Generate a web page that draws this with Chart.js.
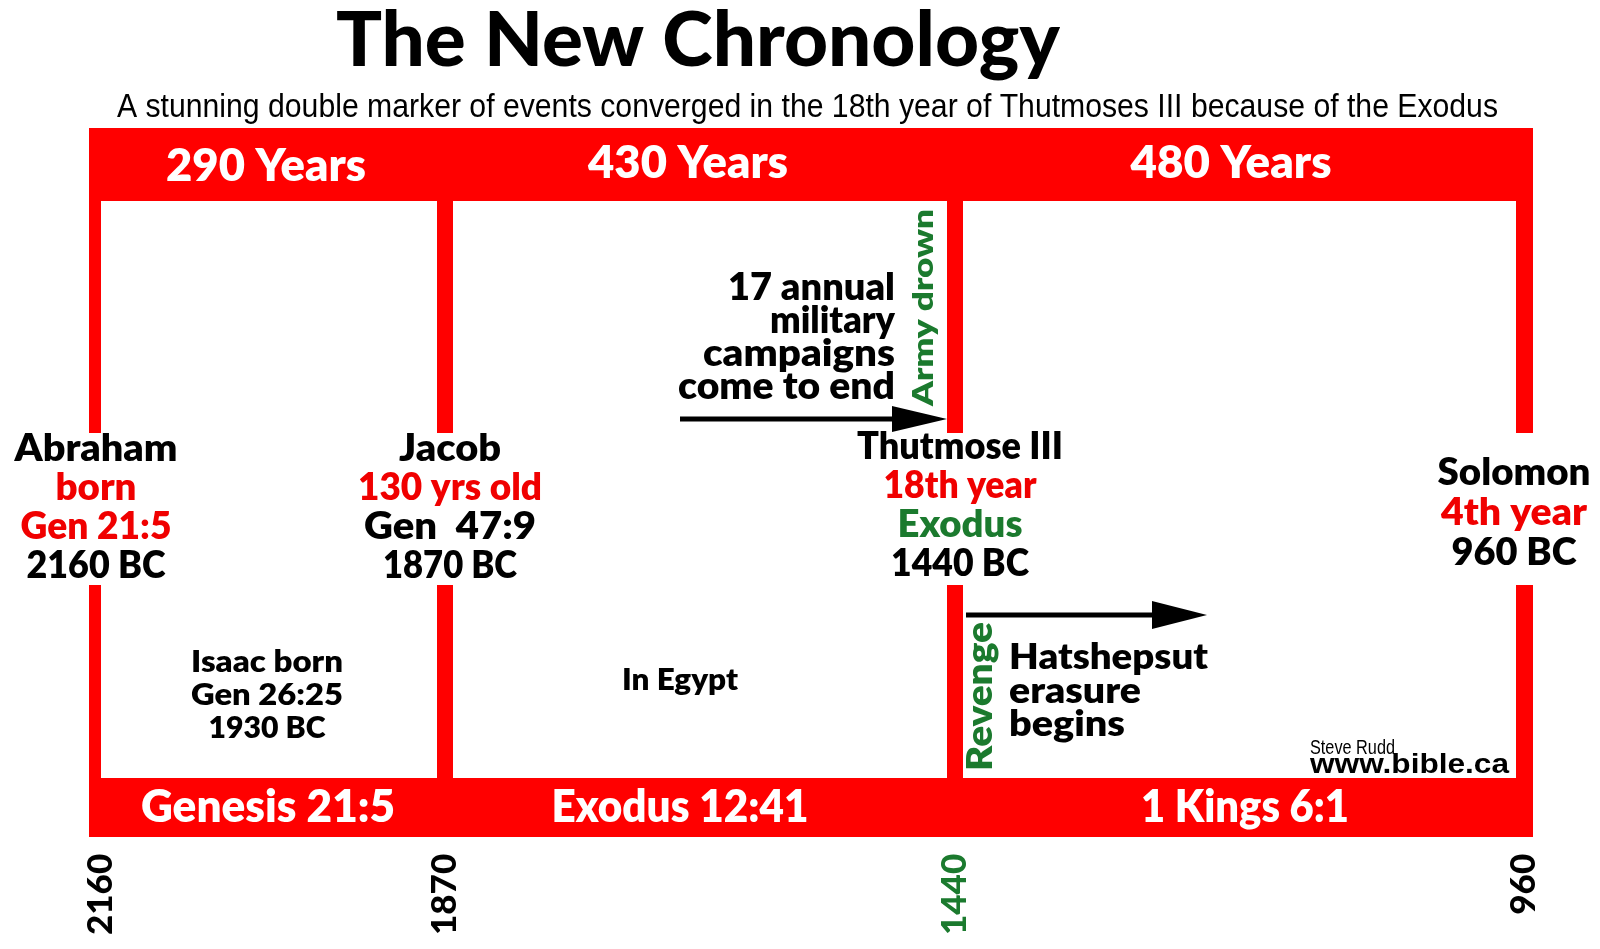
<!DOCTYPE html>
<html><head><meta charset="utf-8">
<style>html,body{margin:0;padding:0;background:#fff;}#wrap{width:1600px;height:949px;}</style>
<script src="https://cdn.jsdelivr.net/npm/chart.js@4.4.1/dist/chart.umd.min.js"></script>
</head><body><div id="wrap"><canvas id="c" width="1600" height="949"></canvas></div>
<script>
// ---------------- data ----------------
const years = [2160, 1870, 1440, 960];
const tickLabels = ['2160', '1870', '1440', '960'];
const periodStart = [2160, 1870, 1440];
const periodEnd = [1870, 1440, 960];
const periodLength = ['290 Years', '430 Years', '480 Years'];
const periodSource = ['Genesis 21:5', 'Exodus 12:41', '1 Kings 6:1'];
const eventLines = [
  ['Abraham', 'born', 'Gen 21:5', '2160 BC'],
  ['Jacob', '130 yrs old', 'Gen  47:9', '1870 BC'],
  ['Thutmose III', '18th year', 'Exodus', '1440 BC'],
  ['Solomon', '4th year', '960 BC']
];
const isaacLines = ['Isaac born', 'Gen 26:25', '1930 BC'];
const egyptLabel = 'In Egypt';
const campaignLines = ['17 annual', 'military', 'campaigns', 'come to end'];
const erasureLines = ['Hatshepsut', 'erasure', 'begins'];
const armyLabel = 'Army drown';
const revengeLabel = 'Revenge';
const titleText = 'The New Chronology';
const subtitleText = 'A stunning double marker of events converged in the 18th year of Thutmoses III because of the Exodus';
const creditSmall = 'Steve Rudd';
const creditSite = 'www.bible.ca';

// ---------------- styles / layout ----------------
const RED = '#ff0000', TRED = '#f00000', GREEN = '#1b7a2e', BLACK = '#000000';
const eventColors = [
  [BLACK, TRED, TRED, BLACK],
  [BLACK, TRED, BLACK, BLACK],
  [BLACK, TRED, GREEN, BLACK],
  [BLACK, TRED, BLACK]
];
const eventLayout = [
  {cx: 96,   base: [461, 500, 539, 578], w: [163, 81, 151, 139]},
  {cx: 450,  base: [461, 500, 539, 578], w: [102, 184, 172, 134]},
  {cx: 960,  base: [459, 498, 537, 576], w: [206, 153, 125, 138]},
  {cx: 1514, base: [485, 525, 565],      w: [153, 146, 125]}
];
const topLabelLayout = [{cx: 266, base: 181, w: 200}, {cx: 688, base: 178, w: 200}, {cx: 1231, base: 178, w: 201}];
const botLabelLayout = [{cx: 268, base: 822, w: 254}, {cx: 680, base: 822, w: 257}, {cx: 1245, base: 822, w: 208}];
const FONT = 'Lato, "Open Sans", sans-serif';
const NARROW = '"Liberation Sans Narrow", "Liberation Sans", Arial, sans-serif';

function fitText(ctx, txt, x, y, size, w, color, align, weight, family, rot) {
  ctx.save();
  ctx.font = `${weight || '800'} ${size}px ${family || FONT}`;
  const m = ctx.measureText(txt).width;
  const s = w / m;
  ctx.translate(x, y);
  if (rot) ctx.rotate(rot);
  ctx.scale(s, 1);
  ctx.textAlign = align || 'center';
  ctx.textBaseline = 'alphabetic';
  ctx.fillStyle = color;
  ctx.fillText(txt, 0, 0);
  ctx.restore();
}

function arrow(ctx, x0, x1, y, headLen, headHalf, shaft) {
  ctx.save();
  ctx.fillStyle = BLACK;
  ctx.fillRect(x0, y - shaft / 2, x1 - headLen - x0 + 1, shaft);
  ctx.beginPath();
  ctx.moveTo(x1 - headLen, y - headHalf);
  ctx.lineTo(x1, y);
  ctx.lineTo(x1 - headLen, y + headHalf);
  ctx.closePath();
  ctx.fill();
  ctx.restore();
}

const timelinePlugin = {
  id: 'timeline',
  beforeDraw(chart) {
    const c = chart.ctx;
    c.save(); c.fillStyle = '#fff'; c.fillRect(0, 0, chart.width, chart.height); c.restore();
  },
  afterDraw(chart) {
    const c = chart.ctx;
    const xs = chart.scales.x;
    const px = v => Math.round(xs.getPixelForValue(v));
    const left = px(years[0]) - 12, right = px(years[years.length - 1]) + 9;
    const bandTop = [128, 201], bandBot = [778, 837];
    const segTop = [201, 433], segBot = [585, 778];

    c.save();
    c.fillStyle = RED;
    // period bands (top and bottom), drawn per period through the x scale
    periodStart.forEach((s, i) => {
      const a = i === 0 ? left : px(s) - 1;
      const b = i === periodStart.length - 1 ? right : px(periodEnd[i]) + 1;
      c.fillRect(a, bandTop[0], b - a, bandTop[1] - bandTop[0]);
      c.fillRect(a, bandBot[0], b - a, bandBot[1] - bandBot[0]);
    });
    // event verticals
    years.forEach((yv, i) => {
      let a, w;
      if (i === 0) { a = left; w = 12; }
      else if (i === years.length - 1) { a = right - 17; w = 17; }
      else { a = px(yv) - 8; w = 16; }
      c.fillRect(a, segTop[0] - 1, w, segTop[1] - segTop[0] + 1);
      c.fillRect(a, segBot[0], w, segBot[1] - segBot[0] + 1);
    });
    c.restore();

    // title & subtitle
    fitText(c, titleText, 698, 66, 76, 724, BLACK, 'center', '900');
    fitText(c, subtitleText, 117, 117, 33, 1381, BLACK, 'left', 'normal', NARROW);

    // band labels
    periodLength.forEach((t, i) => { const L = topLabelLayout[i]; fitText(c, t, L.cx, L.base, 45, L.w, '#fff'); });
    periodSource.forEach((t, i) => { const L = botLabelLayout[i]; fitText(c, t, L.cx, L.base, 46, L.w, '#fff'); });

    // event blocks
    eventLines.forEach((lines, i) => {
      const L = eventLayout[i];
      lines.forEach((t, j) => fitText(c, t, L.cx, L.base[j], 38, L.w[j], eventColors[i][j]));
    });

    // Isaac block and In Egypt
    const isaacBase = [672, 705, 738], isaacW = [152, 152, 117];
    isaacLines.forEach((t, j) => fitText(c, t, 267, isaacBase[j], 30, isaacW[j], BLACK));
    fitText(c, egyptLabel, 680, 690, 30, 116, BLACK);

    // campaigns (right aligned)
    const campBase = [300, 333, 366, 399], campW = [167, 125, 192, 217];
    campaignLines.forEach((t, j) => fitText(c, t, 895, campBase[j], 37, campW[j], BLACK, 'right'));

    // erasure (left aligned)
    const erBase = [669, 703, 736], erW = [199, 132, 116];
    erasureLines.forEach((t, j) => fitText(c, t, 1009, erBase[j], 36, erW[j], BLACK, 'left'));

    // rotated green labels
    fitText(c, armyLabel, 933, 406, 29, 197, GREEN, 'left', '800', FONT, -Math.PI / 2);
    fitText(c, revengeLabel, 992, 771, 35, 149, GREEN, 'left', '800', FONT, -Math.PI / 2);

    // arrows
    arrow(c, 680, px(1440) - 8, 419, 55, 13, 5);
    arrow(c, px(1440) + 11, 1207, 615, 55, 14, 5);

    // credits
    fitText(c, creditSmall, 1310, 754, 21, 85, BLACK, 'left', 'normal', NARROW);
    fitText(c, creditSite, 1310, 773, 28, 199, BLACK, 'left', 'bold', '"Liberation Sans", Arial, sans-serif');
  }
};

const ctx = document.getElementById('c').getContext('2d');
new Chart(ctx, {
  type: 'scatter',
  data: { datasets: [{ data: years.map(v => ({x: v, y: 0})), pointRadius: 0, showLine: false }] },
  options: {
    responsive: false, animation: false, devicePixelRatio: 1,
    layout: { padding: { left: 101, right: 76, top: 0, bottom: 6 } },
    plugins: { legend: { display: false }, tooltip: { enabled: false }, title: { display: false } },
    scales: {
      x: {
        type: 'linear', min: 960, max: 2160, reverse: true,
        afterBuildTicks: s => { s.ticks = years.map(v => ({ value: v })); },
        grid: { display: false, drawTicks: false }, border: { display: false },
        ticks: {
          autoSkip: false, minRotation: 90, maxRotation: 90, padding: 8,
          font: { family: 'Lato', size: 35, weight: '900' },
          color: c => (c.tick && c.tick.value === 1440) ? GREEN : BLACK,
          callback: (v, i) => tickLabels[i]
        }
      },
      y: { display: false, min: 0, max: 1 }
    }
  },
  plugins: [timelinePlugin]
});
</script></body></html>
